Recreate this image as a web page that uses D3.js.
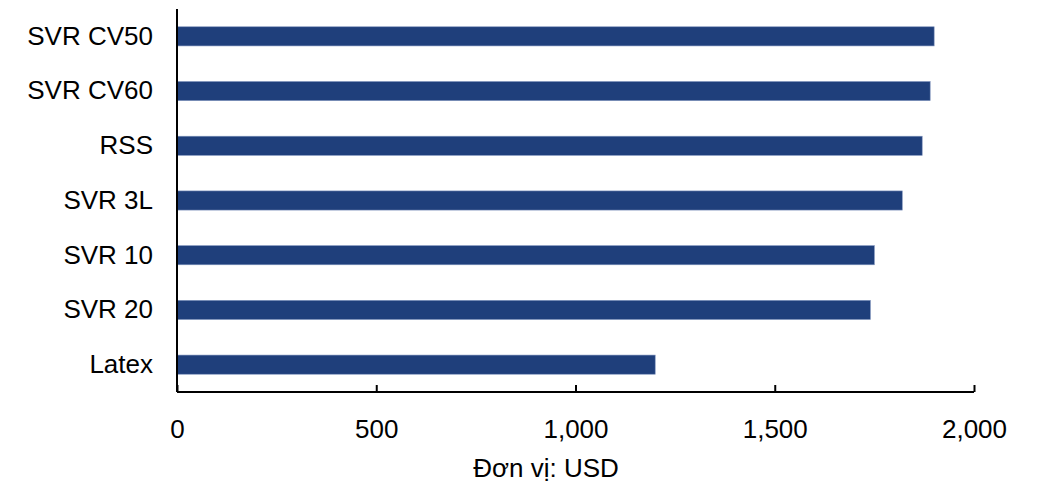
<!DOCTYPE html>
<html>
<head>
<meta charset="utf-8">
<script src="https://cdn.jsdelivr.net/npm/d3@7"></script>
<style>
  html, body { margin: 0; padding: 0; background: #fff; }
  text { font-family: "Liberation Sans", Arial, sans-serif; fill: #000; }
</style>
</head>
<body>
<svg id="chart" width="1038" height="485"></svg>
<script>
const categories = ["SVR CV50", "SVR CV60", "RSS", "SVR 3L", "SVR 10", "SVR 20", "Latex"];
const values = [1900, 1890, 1870, 1820, 1750, 1740, 1200];
const tickValues = [0, 500, 1000, 1500, 2000];
const unitLabel = "Đơn vị: USD";

const svg = d3.select("#chart");
const mLeft = 177, mRight = 974, mTop = 9, mBottom = 392;

const x = d3.scaleLinear().domain([0, 2000]).range([mLeft, mRight]);
const y = d3.scaleBand().domain(categories).range([mTop, mBottom]).paddingInner(0.65).paddingOuter(0.325);

svg.append("g").selectAll("rect")
  .data(categories)
  .join("rect")
  .attr("x", x(0))
  .attr("y", d => y(d))
  .attr("width", (d, i) => x(values[i]) - x(0))
  .attr("height", y.bandwidth())
  .attr("fill", "#1f3f7b")
  .attr("stroke", "#7f93bd")
  .attr("stroke-width", 0.6);

// x axis
const xAxis = d3.axisBottom(x)
  .tickValues(tickValues)
  .tickSize(-7)
  .tickPadding(17)
  .tickFormat(d3.format(","));
const gx = svg.append("g").attr("transform", `translate(0,${mBottom})`).call(xAxis);
gx.select(".domain").attr("stroke", "#000").attr("stroke-width", 2).attr("d", `M${mLeft},0H${mRight}`);
gx.selectAll(".tick line").attr("stroke", "#000").attr("stroke-width", 2);
gx.selectAll(".tick text").attr("font-size", 26).attr("font-family", "Liberation Sans, Arial, sans-serif").attr("dy", "1.1em");

// y axis
const yAxis = d3.axisLeft(y).tickSize(0).tickPadding(24);
const gy = svg.append("g").attr("transform", `translate(${mLeft},0)`).call(yAxis);
gy.select(".domain").attr("stroke", "#000").attr("stroke-width", 2).attr("d", `M0,${mTop}V${mBottom}`);
gy.selectAll(".tick text").attr("font-size", 26).attr("font-family", "Liberation Sans, Arial, sans-serif");

svg.append("text")
  .attr("x", 546)
  .attr("y", 477)
  .attr("text-anchor", "middle")
  .attr("font-size", 26)
  .text(unitLabel);
</script>
</body>
</html>
